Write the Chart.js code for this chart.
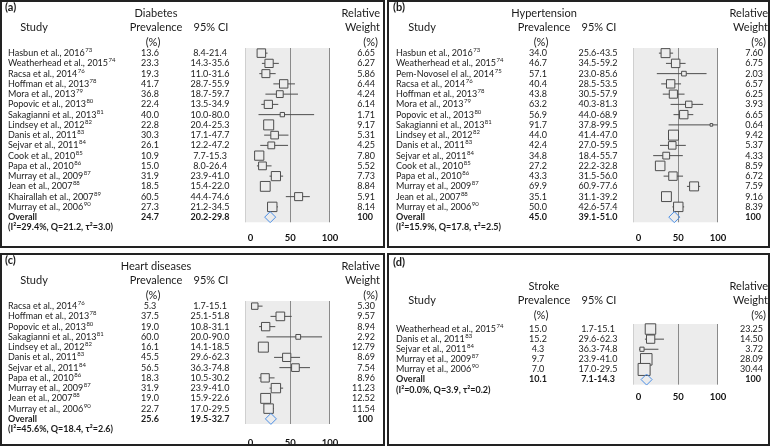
<!DOCTYPE html>
<html>
<head>
<meta charset="utf-8">
<script src="https://cdn.jsdelivr.net/npm/chart.js@4.4.0/dist/chart.umd.min.js"></script>
<style>
  body { margin: 0; background: #fff; width: 770px; height: 446px; position: relative; overflow: hidden; }
  canvas { position: absolute; }
  .frame { position: absolute; border: 2px solid #222; box-sizing: border-box; pointer-events: none; }
</style>
</head>
<body>
<canvas id="chartA" width="385" height="248" style="left:0;top:0"></canvas>
<canvas id="chartB" width="382" height="248" style="left:388px;top:0"></canvas>
<canvas id="chartC" width="385" height="193" style="left:0;top:253px"></canvas>
<canvas id="chartD" width="382" height="193" style="left:388px;top:253px"></canvas>
<div class="frame" style="left:0;top:0;width:385px;height:248px"></div>
<div class="frame" style="left:387px;top:0;width:383px;height:248px"></div>
<div class="frame" style="left:0;top:253px;width:385px;height:193px"></div>
<div class="frame" style="left:387px;top:253px;width:383px;height:193px"></div>
<script>
// (a) diabetes
const diabetesStudies = ["Hasbun et al., 2016", "Weatherhead et al., 2015", "Racsa et al., 2014", "Hoffman et al., 2013", "Mora et al., 2013", "Popovic et al., 2013", "Sakagianni et al., 2013", "Lindsey et al., 2012", "Danis et al., 2011", "Sejvar et al., 2011", "Cook et al., 2010", "Papa et al., 2010", "Murray et al., 2009", "Jean et al., 2007", "Khairallah et al., 2007", "Murray et al., 2006"];
const diabetesRefs = ["73", "74", "76", "78", "79", "80", "81", "82", "83", "84", "85", "86", "87", "88", "89", "90"];
const diabetesPrev = [13.6, 23.3, 19.3, 41.7, 36.8, 22.4, 40.0, 22.8, 30.3, 26.1, 10.9, 15.0, 31.9, 18.5, 60.5, 27.3];
const diabetesLow = [8.4, 14.3, 11.0, 28.7, 18.7, 13.5, 10.0, 20.4, 17.1, 12.2, 7.7, 8.0, 23.9, 15.4, 44.4, 21.2];
const diabetesHigh = [21.4, 35.6, 31.6, 55.9, 59.7, 34.9, 80.0, 25.3, 47.7, 47.2, 15.3, 26.4, 41.0, 22.0, 74.6, 34.5];
const diabetesWeight = [6.65, 6.27, 5.86, 6.44, 4.24, 6.14, 1.71, 9.17, 5.31, 4.25, 7.80, 5.52, 7.73, 8.84, 5.91, 8.14];
const diabetesOverall = [24.7, 20.2, 29.8];
const diabetesStats = "(I²=29.4%, Q=21.2, τ²=3.0)";

// (b) hypertension
const hyperStudies = ["Hasbun et al., 2016", "Weatherhead et al., 2015", "Pem-Novosel el al., 2014", "Racsa et al., 2014", "Hoffman et al., 2013", "Mora et al., 2013", "Popovic et al., 2013", "Sakagianni et al., 2013", "Lindsey et al., 2012", "Danis et al., 2011", "Sejvar et al., 2011", "Cook et al., 2010", "Papa et al., 2010", "Murray et al., 2009", "Jean et al., 2007", "Murray et al., 2006"];
const hyperRefs = ["73", "74", "75", "76", "78", "79", "80", "81", "82", "83", "84", "85", "86", "87", "88", "90"];
const hyperPrev = [34.0, 46.7, 57.1, 40.4, 43.8, 63.2, 56.9, 91.7, 44.0, 42.4, 34.8, 27.2, 43.3, 69.9, 35.1, 50.0];
const hyperLow = [25.6, 34.5, 23.0, 28.5, 30.5, 40.3, 44.0, 37.8, 41.4, 27.0, 18.4, 22.2, 31.5, 60.9, 31.1, 42.6];
const hyperHigh = [43.5, 59.2, 85.6, 53.5, 57.9, 81.3, 68.9, 99.5, 47.0, 59.5, 55.7, 32.8, 56.0, 77.6, 39.2, 57.4];
const hyperWeight = [7.60, 6.75, 2.03, 6.57, 6.25, 3.93, 6.65, 0.64, 9.42, 5.37, 4.33, 8.59, 6.72, 7.59, 9.16, 8.39];
const hyperOverall = [45.0, 39.1, 51.0];
const hyperStats = "(I²=15.9%, Q=17.8, τ²=2.5)";

// (c) heart diseases
const heartStudies = ["Racsa et al., 2014", "Hoffman et al., 2013", "Popovic et al., 2013", "Sakagianni et al., 2013", "Lindsey et al., 2012", "Danis et al., 2011", "Sejvar et al., 2011", "Papa et al., 2010", "Murray et al., 2009", "Jean et al., 2007", "Murray et al., 2006"];
const heartRefs = ["76", "78", "80", "81", "82", "83", "84", "86", "87", "88", "90"];
const heartPrev = [5.3, 37.5, 19.0, 60.0, 16.1, 45.5, 56.5, 18.3, 31.9, 19.0, 22.7];
const heartLow = [1.7, 25.1, 10.8, 20.0, 14.1, 29.6, 36.3, 10.5, 23.9, 15.9, 17.0];
const heartHigh = [15.1, 51.8, 31.1, 90.0, 18.5, 62.3, 74.8, 30.2, 41.0, 22.6, 29.5];
const heartWeight = [5.30, 9.57, 8.94, 2.92, 12.79, 8.69, 7.54, 8.96, 11.23, 12.52, 11.54];
const heartOverall = [25.6, 19.5, 32.7];
const heartStats = "(I²=45.6%, Q=18.4, τ²=2.6)";

// (d) stroke: printed CI column differs from the drawn whiskers
const strokeStudies = ["Weatherhead et al., 2015", "Danis et al., 2011", "Sejvar et al., 2011", "Murray et al., 2009", "Murray et al., 2006"];
const strokeRefs = ["74", "83", "84", "87", "90"];
const strokePrev = [15.0, 15.2, 4.3, 9.7, 7.0];
const strokeCiText = ["1.7-15.1", "29.6-62.3", "36.3-74.8", "23.9-41.0", "17.0-29.5"];
const strokeLow = [9.0, 8.0, 0.6, 6.0, 4.0];
const strokeHigh = [22.0, 32.0, 25.0, 14.0, 11.0];
const strokeWeight = [23.25, 14.50, 3.72, 28.09, 30.44];
const strokeOverall = [10.1, 7.1, 14.3];
const strokeStats = "(I²=0.0%, Q=3.9, τ²=0.2)";

const xTicks = [0, 50, 100];
const refLines = [50, 100];

const INK = "#1b1b1b";
const FONT = "Lato";

function drawTable(chart, p) {
  const ctx = chart.ctx;
  const y = chart.scales.y;
  const n = p.names.length;
  ctx.save();
  ctx.fillStyle = INK;
  ctx.textBaseline = "middle";

  // header
  ctx.font = "bold 11px " + FONT;
  ctx.textAlign = "left";
  ctx.fillText(p.tag, 5, p.tagY);
  ctx.font = "11px " + FONT;
  ctx.textAlign = "center";
  ctx.fillText("Study", 34, p.headY + 14);
  ctx.fillText(p.title, 156, p.headY);
  ctx.fillText("Prevalence", 156, p.headY + 14);
  ctx.fillText("(%)", 153, p.headY + 29);
  ctx.fillText("95% CI", 211, p.headY + 14);
  ctx.textAlign = "right";
  ctx.fillText("Relative", 380, p.headY);
  ctx.fillText("Weight", 380, p.headY + 14);
  ctx.fillText("(%)", 378, p.headY + 29);

  // study rows
  p.names.forEach((name, i) => {
    const py = y.getPixelForValue(i);
    ctx.font = "9px " + FONT;
    ctx.textAlign = "left";
    ctx.fillText(name, 8, py);
    const w = ctx.measureText(name).width;
    ctx.font = "6px " + FONT;
    ctx.fillText(p.refs[i], 8 + w + 0.5, py - 3);
    ctx.font = "9px " + FONT;
    ctx.textAlign = "center";
    ctx.fillText(p.prev[i].toFixed(1), 150, py);
    ctx.fillText(p.ciText[i], 210, py);
    ctx.textAlign = "right";
    ctx.fillText(p.weight[i].toFixed(2), 375, py);
  });

  // overall + heterogeneity
  const oy = y.getPixelForValue(n);
  ctx.font = "bold 9px " + FONT;
  ctx.textAlign = "left";
  ctx.fillText("Overall", 8, oy);
  ctx.textAlign = "center";
  ctx.fillText(p.overall[0].toFixed(1), 150, oy);
  ctx.fillText(p.overall[1].toFixed(1) + "-" + p.overall[2].toFixed(1), 210, oy);
  ctx.textAlign = "right";
  ctx.fillText("100", 373, oy);
  ctx.textAlign = "left";
  ctx.fillText(p.stats, 8, y.getPixelForValue(n + 1));
  ctx.restore();
}

const plotBackground = {
  id: "plotBackground",
  beforeDatasetsDraw(chart) {
    const { ctx, chartArea: a, scales: { x } } = chart;
    ctx.save();
    ctx.fillStyle = "#ececec";
    ctx.fillRect(a.left, a.top, a.right - a.left, a.bottom - a.top);
    ctx.lineWidth = 1;
    ctx.strokeStyle = "#cfcfcf";
    ctx.beginPath();
    ctx.moveTo(Math.round(a.left) + 0.5, a.top);
    ctx.lineTo(Math.round(a.left) + 0.5, a.bottom);
    ctx.stroke();
    ctx.strokeStyle = "#8a8a8a";
    refLines.forEach((v) => {
      const px = Math.min(Math.round(x.getPixelForValue(v)), Math.round(a.right) - 1) + 0.5;
      ctx.beginPath();
      ctx.moveTo(px, a.top);
      ctx.lineTo(px, a.bottom);
      ctx.stroke();
    });
    ctx.restore();
  },
};

function forestPanel(id, p) {
  const canvas = document.getElementById(id);
  const W = canvas.width, H = canvas.height;
  const n = p.names.length;
  const wMax = Math.max(...p.weight);
  const datasets = [];

  p.low.forEach((lo, i) => {
    datasets.push({
      data: [{ x: lo, y: i }, { x: p.high[i], y: i }],
      showLine: true,
      borderColor: "#4d4d4d",
      borderWidth: 1,
      pointRadius: 0,
      order: 3,
      clip: false,
    });
  });
  datasets.push({
    data: p.prev.map((v, i) => ({ x: v, y: i })),
    pointStyle: "rect",
    pointRadius: p.weight.map((w) => (p.boxMax * Math.sqrt(w / wMax)) / Math.SQRT2),
    backgroundColor: "#ececec",
    borderColor: "#4d4d4d",
    borderWidth: 1,
    order: 2,
    clip: false,
  });
  datasets.push({
    data: [{ x: p.overall[0], y: n }],
    pointStyle: "rectRot",
    pointRadius: 5.5,
    backgroundColor: "rgba(0,0,0,0)",
    borderColor: "#4a8ee6",
    borderWidth: 1,
    order: 1,
    clip: false,
  });

  const plotLeft = 245, plotRight = 330;
  const plotBottom = p.plotTop + (n + 1) * p.rowH;

  new Chart(canvas.getContext("2d"), {
    type: "scatter",
    data: { datasets },
    options: {
      responsive: false,
      animation: false,
      events: [],
      layout: {
        padding: { left: plotLeft, right: W - plotRight, top: p.plotTop, bottom: H - plotBottom - 20 },
      },
      plugins: { legend: { display: false }, tooltip: { enabled: false } },
      scales: {
        x: {
          type: "linear",
          min: -7,
          max: 100,
          afterFit: (s) => { s.height = 20; },
          afterBuildTicks: (s) => { s.ticks = xTicks.map((v) => ({ value: v })); },
          grid: { display: false, drawTicks: false },
          border: { display: false },
          ticks: {
            padding: p.tickPad,
            color: "#111",
            font: { family: FONT, size: 9.5, weight: "bold" },
          },
        },
        y: {
          type: "linear",
          display: false,
          reverse: true,
          min: -0.5,
          max: n + 0.5,
        },
      },
    },
    plugins: [plotBackground, { id: "table", afterDraw: (chart) => drawTable(chart, p) }],
  });
}

const ciLabels = (lo, hi) => lo.map((v, i) => v.toFixed(1) + "-" + hi[i].toFixed(1));

forestPanel("chartA", {
  tag: "(a)", title: "Diabetes", tagY: 7, headY: 13, plotTop: 48, rowH: 10.25, tickPad: 10, boxMax: 10,
  names: diabetesStudies, refs: diabetesRefs, prev: diabetesPrev, low: diabetesLow, high: diabetesHigh,
  ciText: ciLabels(diabetesLow, diabetesHigh), weight: diabetesWeight, overall: diabetesOverall, stats: diabetesStats,
});
forestPanel("chartB", {
  tag: "(b)", title: "Hypertension", tagY: 7, headY: 13, plotTop: 48, rowH: 10.25, tickPad: 10, boxMax: 10,
  names: hyperStudies, refs: hyperRefs, prev: hyperPrev, low: hyperLow, high: hyperHigh,
  ciText: ciLabels(hyperLow, hyperHigh), weight: hyperWeight, overall: hyperOverall, stats: hyperStats,
});
forestPanel("chartC", {
  tag: "(c)", title: "Heart diseases", tagY: 7, headY: 13, plotTop: 48, rowH: 10.25, tickPad: 13, boxMax: 10,
  names: heartStudies, refs: heartRefs, prev: heartPrev, low: heartLow, high: heartHigh,
  ciText: ciLabels(heartLow, heartHigh), weight: heartWeight, overall: heartOverall, stats: heartStats,
});
forestPanel("chartD", {
  tag: "(d)", title: "Stroke", tagY: 9, headY: 33, plotTop: 71, rowH: 10.1, tickPad: 7, boxMax: 12,
  names: strokeStudies, refs: strokeRefs, prev: strokePrev, low: strokeLow, high: strokeHigh,
  ciText: strokeCiText, weight: strokeWeight, overall: strokeOverall, stats: strokeStats,
});
</script>
</body>
</html>
